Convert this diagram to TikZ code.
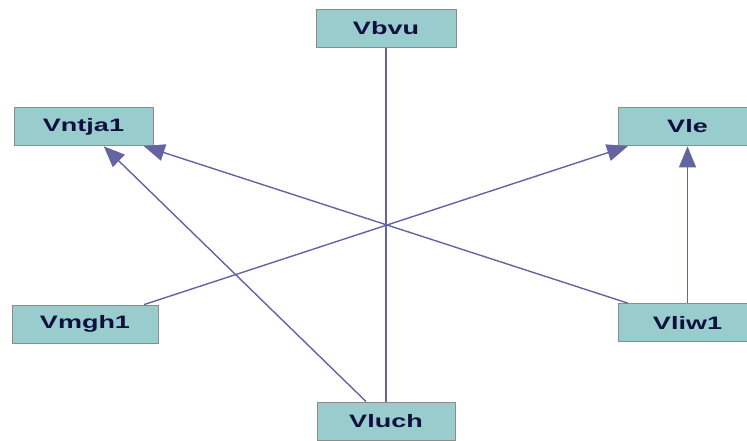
\documentclass[tikz,border=0pt]{standalone}
\usepackage{fontspec}
\usepackage{graphicx}
\setmainfont{Liberation Sans}
\usetikzlibrary{arrows.meta}
\definecolor{boxfill}{RGB}{153,204,204}
\definecolor{boxline}{RGB}{140,140,140}
\definecolor{edgecol}{RGB}{100,100,162}
\definecolor{labelcol}{RGB}{16,16,64}
\newcommand{\wide}[1]{\scalebox{1.5}[1]{#1}}
\begin{document}
\begin{tikzpicture}[x=1pt,y=-1pt,
  vbox/.style={draw=boxline, line width=0.8pt, fill=boxfill,
    minimum width=#1, minimum height=38pt, inner sep=0pt,
    text=labelcol, font=\fontsize{18}{18}\selectfont\bfseries},
  vbox/.default=139pt,
  edge/.style={draw=edgecol, line width=1.4pt},
  arr/.style={edge, -{Triangle[width=17pt,length=21pt]}, shorten >=0.5pt}]
\useasboundingbox (0,0) rectangle (747,441);
\fill[white] (0,0) rectangle (747,441);
\clip (0,0) rectangle (747,441);

\node[vbox=140pt] (bvu)  at (386,28.5)  {\wide{Vbvu}};
\node[vbox]       (ntja) at (83.5,126.5) {\wide{Vntja1}};
\node[vbox]       (le)   at (687.5,126.5) {\wide{Vle}};
\node[vbox=146pt] (mgh)  at (85,324)    {\wide{Vmgh1}};
\node[vbox]       (liw)  at (687.5,322.5) {\wide{Vliw1}};
\node[vbox=138pt] (luch) at (386,421)   {\wide{Vluch}};

\draw[edge] (luch) -- (bvu);
\draw[arr] (luch) -- (ntja);
\draw[arr] (liw) -- (ntja);
\draw[arr] (mgh) -- (le);
\draw[arr] (liw) -- (le);
\end{tikzpicture}
\end{document}
